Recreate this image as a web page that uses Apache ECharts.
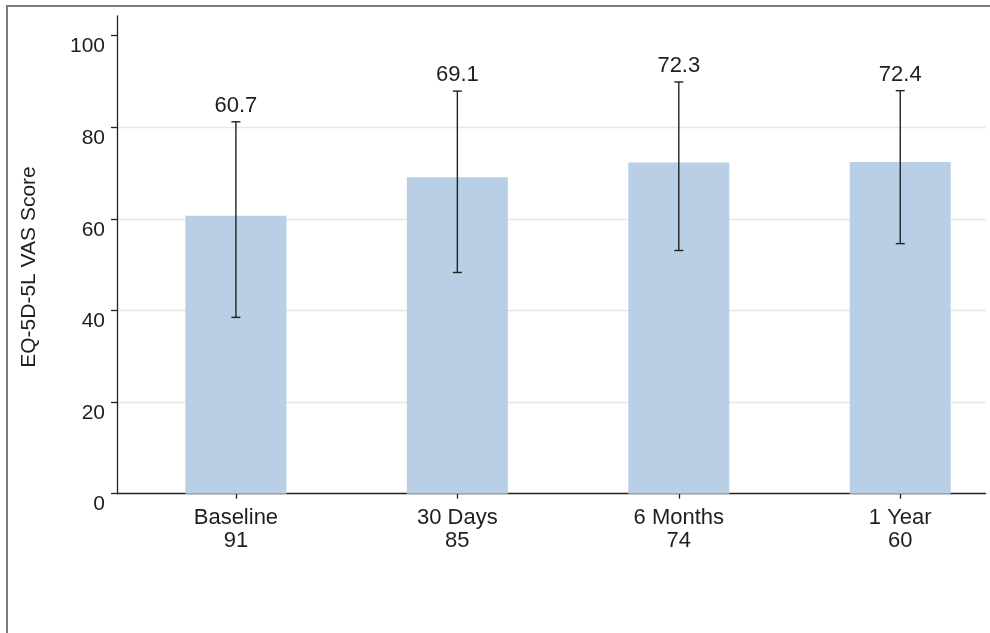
<!DOCTYPE html>
<html>
<head>
<meta charset="utf-8">
<script src="https://cdn.jsdelivr.net/npm/echarts@6/dist/echarts.min.js"></script>
<style>
html,body{margin:0;padding:0;background:#fff;}
#chart{width:990px;height:633px;}
</style>
</head>
<body>
<div id="chart"></div>
<script>
var categories = ['Baseline', '30 Days', '6 Months', '1 Year'];
var counts = [91, 85, 74, 60];
var means = [60.7, 69.1, 72.3, 72.4];
var lower = [38.5, 48.3, 53.1, 54.6];
var upper = [81.2, 87.9, 89.9, 88.0];
var yTicks = [0, 20, 40, 60, 80, 100];
var positions = [1, 2, 3, 4];

var FONT = 'Liberation Sans, Arial, sans-serif';
var TXT = '#1e1e1e';
var chart = echarts.init(document.getElementById('chart'));

var barData = positions.map(function (p, i) { return [p, means[i]]; });
var errData = positions.map(function (p, i) { return [p, lower[i], upper[i], means[i]]; });

chart.setOption({
  animation: false,
  backgroundColor: '#fff',
  grid: { left: 117, right: 4.5, top: 16, bottom: 139.3, containLabel: false },
  graphic: [
    {
      type: 'polyline',
      shape: { points: [[7, 640], [7, 6], [995, 6]] },
      style: { stroke: '#7a7a7a', lineWidth: 2, fill: null },
      silent: true
    },
    {
      type: 'text',
      x: 29, y: 267,
      rotation: Math.PI / 2,
      style: {
        text: 'EQ-5D-5L VAS Score',
        fontSize: 21, fontFamily: FONT, fill: TXT,
        align: 'center', verticalAlign: 'middle'
      },
      silent: true
    }
  ],
  xAxis: {
    type: 'value',
    min: 0.463, max: 4.385,
    splitLine: { show: false },
    axisLine: { show: true, onZero: false, lineStyle: { color: '#222', width: 1.3 } },
    axisTick: { show: true, customValues: positions, length: 5, lineStyle: { color: '#222', width: 1.3 } },
    axisLabel: {
      customValues: positions,
      margin: 13,
      fontSize: 22, fontFamily: FONT, color: TXT, lineHeight: 23,
      formatter: function (v) {
        var i = positions.indexOf(Math.round(v));
        return i >= 0 ? categories[i] + '\n' + counts[i] : '';
      }
    }
  },
  yAxis: {
    type: 'value',
    min: 0, max: 104.3,
    axisLine: { show: true, lineStyle: { color: '#222', width: 1.3 } },
    axisTick: { show: true, customValues: yTicks, length: 6, lineStyle: { color: '#222', width: 1.3 } },
    axisLabel: {
      customValues: yTicks,
      margin: 12,
      fontSize: 21, fontFamily: FONT, color: TXT,
      verticalAlign: 'top', lineHeight: 22
    },
    splitLine: { show: true, showMinLine: false, showMaxLine: false, lineStyle: { color: '#e6e6e6', width: 1.3 } }
  },
  series: [
    {
      type: 'bar',
      data: barData,
      barWidth: 101,
      itemStyle: { color: '#b8cfe5' },
      silent: true
    },
    {
      type: 'custom',
      data: errData,
      encode: { x: 0, y: [1, 2] },
      renderItem: function (params, api) {
        var x = api.value(0);
        var lo = api.coord([x, api.value(1)]);
        var hi = api.coord([x, api.value(2)]);
        var cap = 4.5;
        var st = { stroke: '#222', lineWidth: 1.4 };
        return {
          type: 'group',
          children: [
            { type: 'line', shape: { x1: lo[0], y1: lo[1], x2: hi[0], y2: hi[1] }, style: st },
            { type: 'line', shape: { x1: hi[0] - cap, y1: hi[1], x2: hi[0] + cap, y2: hi[1] }, style: st },
            { type: 'line', shape: { x1: lo[0] - cap, y1: lo[1], x2: lo[0] + cap, y2: lo[1] }, style: st },
            {
              type: 'text',
              x: hi[0], y: hi[1] - 5,
              style: {
                text: api.value(3).toFixed(1),
                fontSize: 22, fontFamily: FONT, fill: TXT,
                align: 'center', verticalAlign: 'bottom'
              }
            }
          ]
        };
      },
      silent: true,
      z: 5
    }
  ]
});
</script>
</body>
</html>
